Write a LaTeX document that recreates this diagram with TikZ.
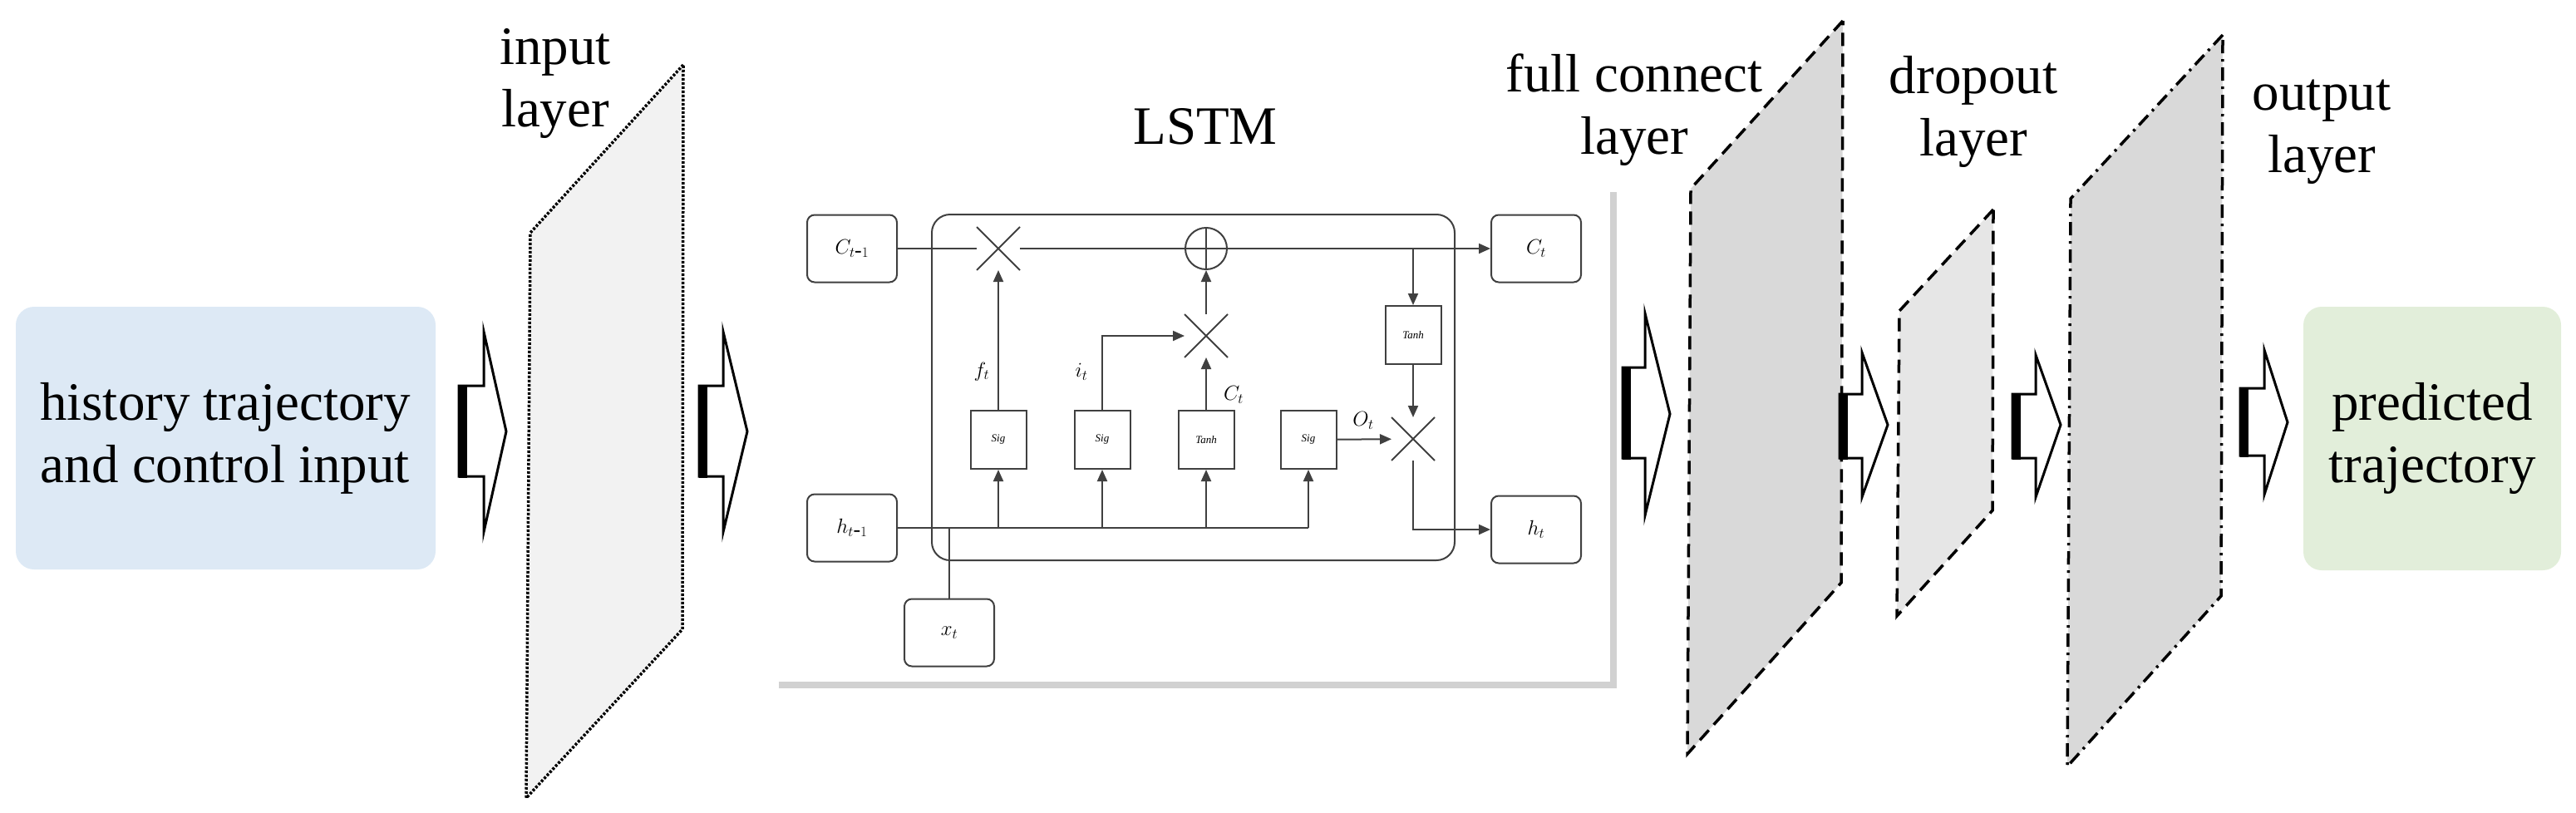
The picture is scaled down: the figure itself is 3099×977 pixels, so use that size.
\documentclass[tikz,border=0pt]{standalone}
\usepackage{fontspec}
\setmainfont{Liberation Serif}
\usetikzlibrary{shapes.misc,arrows.meta}
\newcommand\blockarr[8]{% x0 neck x1 bodytop bodybot tiptop tipbot mid
  \draw[line width=3pt,fill=white,line join=miter] (#1,#4)--(#2,#4)--(#2,#6)--(#3,#8)--(#2,#7)--(#2,#5)--(#1,#5)--cycle;
  \draw[line width=10pt] (#1+5,#4-1.5)--(#1+5,#5+1.5);}
\begin{document}
\begin{tikzpicture}[x=1pt,y=-1pt,
  big/.style={font=\fontsize{65}{75}\selectfont,align=center},
  io/.style={rounded corners=22pt,draw=none},
  layer/.style={line width=3.5pt},
  cell/.style={draw=black!75,line width=2pt},
  ib/.style={cell,rounded corners=9pt,minimum width=108pt,minimum height=81pt,font=\fontsize{26}{30}\selectfont\itshape},
  gate/.style={cell,minimum width=67pt,minimum height=70pt,inner sep=0pt,font=\fontsize{13}{15}\selectfont\itshape},
  op/.style={cell,circle,minimum size=50pt,inner sep=0pt},
  mul/.style={op,cross out},
  lab/.style={font=\fontsize{24}{28}\selectfont\itshape},
  ar/.style={cell,-{Triangle[length=14pt,width=12pt]}}]
\useasboundingbox (0,0) rectangle (3099,977);
% input / output boxes
\fill[io,fill={rgb,255:red,221;green,233;blue,245}] (19,369) rectangle (524,685);
\node[big] (hist) at (271,527) {history trajectory\\and control input};
\fill[io,fill={rgb,255:red,226;green,238;blue,218}] (2771,369) rectangle (3081,686);
\node[big] (pred) at (2926,527) {predicted\\trajectory};
% layers
\draw[layer,densely dashed,fill={rgb,255:red,242;green,242;blue,242}] (822,78)--(638,280)--(633,960)--(821,757)--cycle;
\node[big] (inl) at (668,100) {input\\layer};
\draw[layer,dash pattern=on 16pt off 9pt,fill={rgb,255:red,217;green,217;blue,217}] (2217,25)--(2034,227)--(2030,907)--(2215,701)--cycle;
\node[big] (fcl) at (1966,132) {full connect\\layer};
\draw[layer,dash pattern=on 16pt off 9pt,fill={rgb,255:red,230;green,230;blue,230}] (2398,252)--(2285,374)--(2282,741)--(2397,614)--cycle;
\node[big] (dol) at (2374,134) {dropout\\layer};
\draw[layer,dash pattern=on 16pt off 7pt on 3pt off 7pt,fill={rgb,255:red,217;green,217;blue,217}] (2674,42)--(2491,239)--(2487,922)--(2672,717)--cycle;
\node[big] (oul) at (2793,159) {output\\layer};
% block arrows
\blockarr{552}{582}{609}{464}{573}{399}{640}{519}
\blockarr{841}{870}{899}{464}{573}{399}{640}{519}
\blockarr{1952}{1979}{2009}{442}{551}{377}{620}{498}
\blockarr{2213}{2240}{2271}{474}{551}{424}{598}{511}
\blockarr{2421}{2449}{2479}{474}{551}{427}{598}{511}
\blockarr{2695}{2724}{2752}{467}{548}{421}{595}{508}
% LSTM panel
\node[big] (lstmt) at (1450,152) {LSTM};
\fill[black!18] (937,231) rectangle (1945,828);
\fill[white] (929,223) rectangle (1937,820);
\draw[cell,rounded corners=22pt] (1121,258) rectangle (1750,674);
\node[ib] (cp) at (1025,299) {$C_{t\mbox{-}1}$};
\node[ib] (cn) at (1848,299) {$C_t$};
\node[ib] (hp) at (1025,635) {$h_{t\mbox{-}1}$};
\node[ib] (hn) at (1848,637) {$h_t$};
\node[ib] (xt) at (1142,761) {$x_t$};
\node[mul] (m1) at (1201,299) {};
\node[op] (pl) at (1451,299) {};
\draw[cell] (pl.north)--(pl.south) (pl.west)--(pl.east);
\node[mul] (m2) at (1451,404) {};
\node[mul] (m3) at (1700,528) {};
\node[gate] (g1) at (1201,529) {Sig};
\node[gate] (g2) at (1326,529) {Sig};
\node[gate] (g3) at (1451,529) {Tanh};
\node[gate] (g4) at (1574,529) {Sig};
\node[gate] (g5) at (1700,403) {Tanh};
\coordinate (hx) at (1574,635);
\coordinate (br) at (1700,299);
\draw[cell] (cp)--(m1) (m1)--(pl);
\draw[ar] (pl)--(cn);
\draw[cell] (hp)--(hx);
\draw[ar] (hx)--(g4.south);
\draw[cell] (xt.north)--(xt.north|-hp);
\draw[ar] (g1.south|-hp)--(g1.south);
\draw[ar] (g2.south|-hp)--(g2.south);
\draw[ar] (g3.south|-hp)--(g3.south);
\draw[ar] (g1)--(m1);
\draw[ar] (g2.north)|-(m2.west);
\draw[ar] (g3)--(m2);
\draw[ar] (m2)--(pl);
\draw[ar] (g4)--(m3);
\draw[ar] (br)--(g5);
\draw[ar] (g5)--(m3);
\draw[ar] (m3.south)|-(hn.west);
\node[lab] (ft) at (1181,447) {$f_t$};
\node[lab] (it) at (1301,447) {$i_t$};
\node[lab] (ct) at (1484,475) {$C_t$};
\node[lab] (ot) at (1640,506) {$O_t$};
\end{tikzpicture}
\end{document}
